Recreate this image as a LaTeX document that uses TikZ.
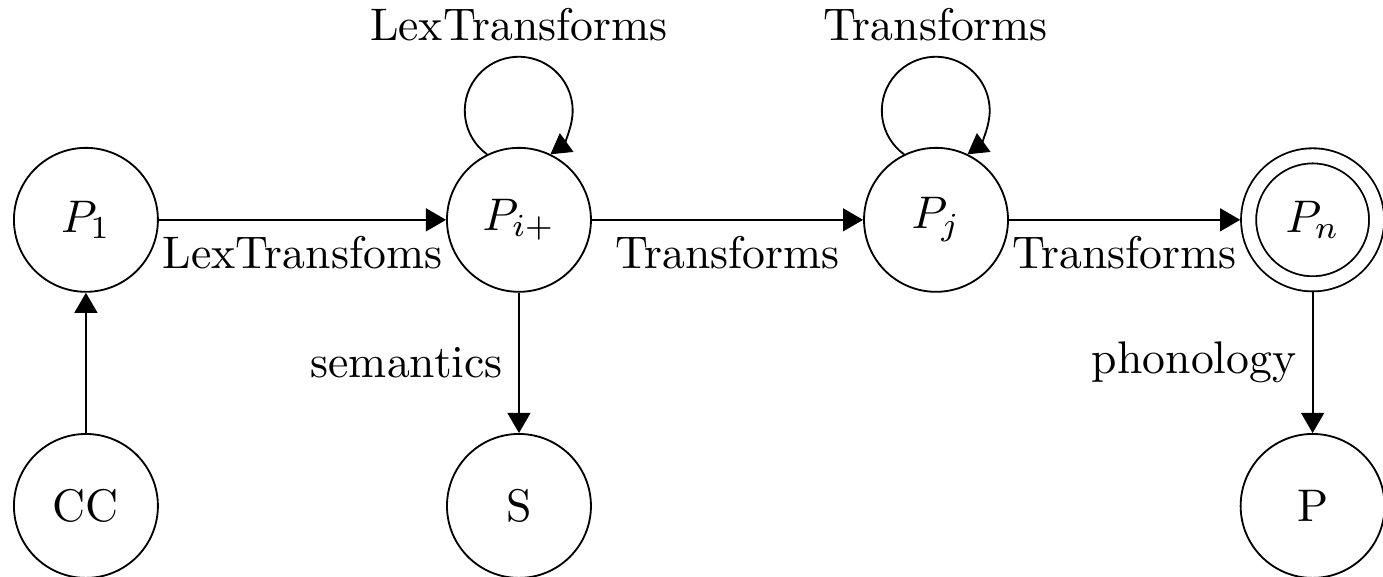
\documentclass[tikz,border=0pt]{standalone}
\usepackage{amsmath}
\usetikzlibrary{arrows.meta, positioning}
\tikzset{
  >={Triangle[length=4.4pt, width=5pt]},
  flowarrow/.style={->, black},
  state/.style={circle, draw, minimum size=31.5pt, inner sep=0pt},
  accept/.style={circle, draw, double, double distance=2.9pt, minimum size=28pt, inner sep=0pt, outer sep=1.85pt},
  selfloop/.style={flowarrow}
}
\begin{document}
\begin{tikzpicture}[on grid]
    \useasboundingbox (-18.8pt,-78.1pt) rectangle (283.8pt,48.1pt);

    % States
    \node[state] (p1) at (0, 0) {$P_1$};
    \node[state, right=94.75pt of p1] (pi) {$P_{i+}$};
    \node[state, right=91.25pt of pi] (pj) {$P_j$};
    \node[accept, right=82.4pt of pj] (pn) {$P_n$};
    \node[state, below=62.6pt of p1] (cc) {CC};
    \node[state, below=62.6pt of pi] (s) {S};
    \node[state, below=62.6pt of pn] (p) {P};

    % Transitions
    \draw[flowarrow] (cc) -- (p1);
    \draw[flowarrow] (p1) -- node[below] {LexTransfoms} (pi);
    \draw[flowarrow] (pi) -- node[below] {Transforms} (pj);
    \draw[flowarrow] (pj) -- node[below] {Transforms} (pn);
    \draw[flowarrow] (pi) -- node[left] {semantics} (s);
    \draw[flowarrow] (pn) -- node[left] {phonology} (p);

    % Loops
    \draw[selfloop] (pi.116) arc[start angle=234, delta angle=-288, radius=11.8pt] node[pos=0.5, above] {LexTransforms};
    \draw[selfloop] (pj.116) arc[start angle=234, delta angle=-288, radius=11.8pt] node[pos=0.5, above] {Transforms};
\end{tikzpicture}
\end{document}
